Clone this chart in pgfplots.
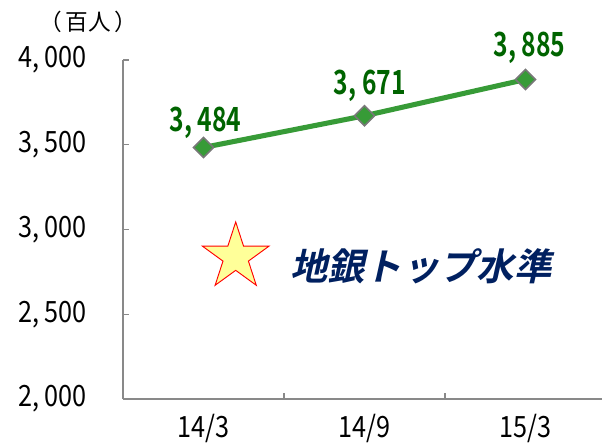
\documentclass[border=0pt]{standalone}
\usepackage{pgfplots}
\pgfplotsset{compat=1.18}
\usepackage{fontspec}
\setmainfont{Noto Sans CJK JP}[BoldFont={Noto Sans CJK JP Bold}]
\newfontfamily\tickfont[FakeStretch=0.86]{Noto Sans CJK JP}
\newfontfamily\lblfont[FakeStretch=0.74]{Noto Sans CJK JP Bold}
\newfontfamily\titlefont[FakeSlant=0.22]{Noto Sans CJK JP Bold}
\usetikzlibrary{shapes.geometric}
\definecolor{linegreen}{RGB}{55,155,55}
\definecolor{labelgreen}{RGB}{0,100,0}
\definecolor{markgray}{RGB}{120,120,120}
\definecolor{axisgray}{RGB}{137,137,137}
\definecolor{navy}{RGB}{0,32,96}
\definecolor{staryellow}{RGB}{255,255,153}
\begin{document}
\begin{tikzpicture}
\useasboundingbox (-92.25pt,-33pt) rectangle (359.25pt,299.25pt);
\begin{axis}[
  at={(0pt,0pt)}, anchor=south west,
  scale only axis, width=362.25pt, height=254.25pt,
  xmin=-0.5, xmax=2.5, ymin=2000, ymax=4000,
  axis lines=left,
  axis line style={-, draw=axisgray, line width=1.1pt},
  tick align=inside,
  major tick length=4.5pt,
  tick style={draw=axisgray, line width=1.1pt},
  ytick={2000,2500,3000,3500,4000},
  yticklabels={{2, 000},{2, 500},{3, 000},{3, 500},{4, 000}},
  yticklabel style={anchor=east, inner sep=0pt, xshift=-27pt, font=\tickfont\fontsize{22}{24}\selectfont},
  xtick={0.5,1.5}, xticklabels={},
  extra x ticks={0,1,2},
  extra x tick labels={14/3,14/9,15/3},
  extra x tick style={tick style={draw=none}},
  xticklabel style={anchor=north, inner sep=0pt, yshift=-11pt, font=\tickfont\fontsize{22}{24}\selectfont},
  clip=false,
]
\addplot[linegreen, line width=3.8pt, mark=square*, mark size=5.3pt,
  mark options={fill=linegreen, draw=markgray, line width=1.2pt, solid, rotate=45}]
  coordinates {(0,3484) (1,3671) (2,3885)};
\node[text=labelgreen, font=\lblfont\fontsize{25}{27}\selectfont, xshift=1.5pt, yshift=18.4pt] at (axis cs:0,3484) {3, 484};
\node[text=labelgreen, font=\lblfont\fontsize{25}{27}\selectfont, xshift=4pt, yshift=22.5pt] at (axis cs:1,3671) {3, 671};
\node[text=labelgreen, font=\lblfont\fontsize{25}{27}\selectfont, xshift=3pt, yshift=24pt] at (axis cs:2,3885) {3, 885};
\node[star, star points=5, star point ratio=2.618, minimum size=52.5pt, inner sep=0pt, fill=staryellow, draw=red, line width=0.7pt] at (axis cs:0.2,2838) {};
\node[text=navy, font=\titlefont\fontsize{28}{30}\selectfont] at (axis cs:1.35,2785) {地銀トップ水準};
\node[font=\fontsize{17}{19}\selectfont] at ([xshift=-26pt, yshift=28.5pt]rel axis cs:0,1) {（\hspace{2.5pt}百人\hspace{2.5pt}）};
\end{axis}
\end{tikzpicture}
\end{document}
